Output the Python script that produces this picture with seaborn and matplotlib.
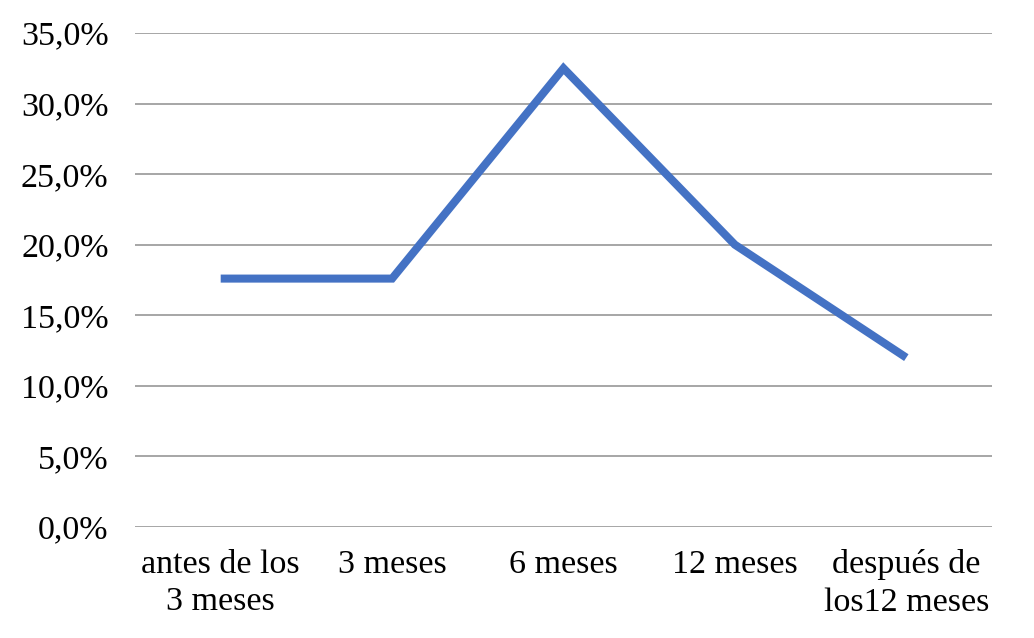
import seaborn as sns
import matplotlib.pyplot as plt
from matplotlib.ticker import FuncFormatter, MultipleLocator

# Data
categories = ["antes de los\n3 meses", "3 meses", "6 meses", "12 meses", "después de\nlos12 meses"]
percentages = [17.6, 17.6, 32.5, 20.0, 12.0]

sns.set_style("white")
plt.rcParams['font.family'] = ['Liberation Serif', 'DejaVu Serif']

fig = plt.figure(figsize=(10.34, 6.38), dpi=100)
ax = fig.add_axes([135 / 1034, 1 - 527 / 638, (992 - 135) / 1034, (527 - 33) / 638])

positions = list(range(len(categories)))
sns.lineplot(x=positions, y=percentages, ax=ax, color="#4472C4", linewidth=5.8,
             solid_capstyle="butt", solid_joinstyle="miter", zorder=3)

ax.set_xlim(-0.5, len(categories) - 0.5)
ax.set_ylim(0, 35)
ax.yaxis.set_major_locator(MultipleLocator(5))
ax.yaxis.set_major_formatter(FuncFormatter(lambda v, p: f"{v:.1f}%".replace(".", ",")))
ax.set_xticks(positions)
ax.set_xticklabels(categories, linespacing=1.3)

ax.grid(axis="y", color="#A6A6A6", linewidth=1.4)
ax.grid(axis="x", visible=False)
for s in ax.spines.values():
    s.set_visible(False)
ax.tick_params(axis="both", length=0, labelsize=24.5, colors="black")
ax.tick_params(axis="y", pad=19)
ax.tick_params(axis="x", pad=16)

fig.savefig("out.png", dpi=100)
